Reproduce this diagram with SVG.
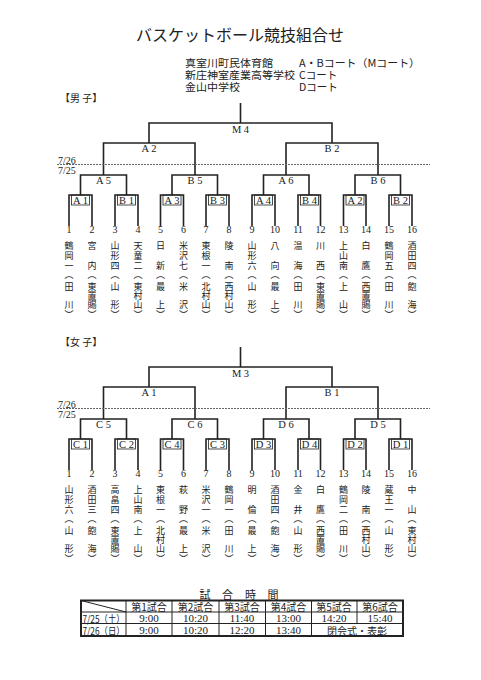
<svg xmlns="http://www.w3.org/2000/svg" width="481" height="680" viewBox="0 0 481 680">
<style>
.j{font-family:"Noto Sans CJK JP","Noto Sans CJK SC",sans-serif;fill:#222}
.s{font-family:"Liberation Serif","DejaVu Serif",serif;fill:#222}
.m{text-anchor:middle;dominant-baseline:central}
.ln{fill:none;stroke:#222;stroke-width:1.6}
.bx{fill:none;stroke:#222;stroke-width:0.8}
.dash{stroke:#666;stroke-width:1;stroke-dasharray:2 1}
.nm{font-size:9px}
.lb{font-size:10.5px}
.nu{font-size:10px}
.hd{font-size:10.5px;dominant-baseline:central}
</style>
<rect width="481" height="680" fill="#fff"/>
<g id="header">
<text class="j m" x="240" y="34" font-size="16">バスケットボール競技組合せ</text>
<text class="j hd" x="185" y="62" textLength="88" lengthAdjust="spacingAndGlyphs">真室川町民体育館</text>
<text class="j hd" x="185" y="74" textLength="110" lengthAdjust="spacingAndGlyphs">新庄神室産業高等学校</text>
<text class="j hd" x="185" y="86" textLength="55" lengthAdjust="spacingAndGlyphs">金山中学校</text>
<text class="j hd" x="299" y="62" textLength="121" lengthAdjust="spacingAndGlyphs">A・Bコート（Mコート）</text>
<text class="j hd" x="299" y="74">Cコート</text>
<text class="j hd" x="299" y="86">Dコート</text>
</g>

<!-- MALE -->
<g id="male">
<text class="j" x="60" y="97" font-size="10" dominant-baseline="central">【男 子】</text>
<g id="male-connectors">
<path class="ln" d="M240.5 103V123M149 143V123H332V143M103.5 175V143H195V175M286 175V143H378V175M80.5 195V175H126.5V195M172 195V175H217.5V195M263.5 195V175H309V195M355 195V175H400.5V195M69 226V195H92V226M115 226V195H138V226M160.5 226V195H183.5V226M206 226V195H229V226M252 226V195H275V226M298 226V195H320.5V226M343.5 226V195H366V226M389 226V195H412V226"/>
<line class="dash" x1="57" y1="164.5" x2="430" y2="164.5"/>
<text class="s" x="58" y="160" font-size="10" dominant-baseline="central">7/26</text>
<text class="s" x="58" y="170" font-size="10" dominant-baseline="central">7/25</text>
</g>
<g id="male-matches">
<g id="mM4"><text class="s m lb" x="240.5" y="129">M 4</text></g>
<g id="mA2"><text class="s m lb" x="149" y="148.5">A 2</text></g>
<g id="mB2"><text class="s m lb" x="332" y="148.5">B 2</text></g>
<g id="mA5"><text class="s m lb" x="103.5" y="180">A 5</text></g>
<g id="mB5"><text class="s m lb" x="195" y="180">B 5</text></g>
<g id="mA6"><text class="s m lb" x="286" y="180">A 6</text></g>
<g id="mB6"><text class="s m lb" x="378" y="180">B 6</text></g>
<g id="mA1"><rect class="bx" x="71.5" y="195" width="18" height="10"/><text class="s m lb" x="80.5" y="200.5">A 1</text></g>
<g id="mB1"><rect class="bx" x="117.5" y="195" width="18" height="10"/><text class="s m lb" x="126.5" y="200.5">B 1</text></g>
<g id="mA3"><rect class="bx" x="163" y="195" width="18" height="10"/><text class="s m lb" x="172" y="200.5">A 3</text></g>
<g id="mB3"><rect class="bx" x="208.5" y="195" width="18" height="10"/><text class="s m lb" x="217.5" y="200.5">B 3</text></g>
<g id="mA4"><rect class="bx" x="254.5" y="195" width="18" height="10"/><text class="s m lb" x="263.5" y="200.5">A 4</text></g>
<g id="mB4"><rect class="bx" x="300.5" y="195" width="18" height="10"/><text class="s m lb" x="309.5" y="200.5">B 4</text></g>
<g id="mA2b"><rect class="bx" x="346" y="195" width="18" height="10"/><text class="s m lb" x="355" y="200.5">A 2</text></g>
<g id="mB2b"><rect class="bx" x="391.5" y="195" width="18" height="10"/><text class="s m lb" x="400.5" y="200.5">B 2</text></g>
</g>
<g id="male-teams">
<g id="m1"><text class="s m nu" x="69" y="229.5">1</text><text class="j m nm" x="69 69 69 69 69 69 69" y="245.5 255.5 265.5 274.5 286.5 304.5 314.5">鶴岡一︵田川︶</text></g>
<g id="m2"><text class="s m nu" x="92" y="229.5">2</text><text class="j m nm" x="92 92 92 92 92 92 92" y="245.5 265.5 274.5 286.5 295.5 304.5 314.5">宮内︵東置賜︶</text></g>
<g id="m3"><text class="s m nu" x="115" y="229.5">3</text><text class="j m nm" x="115 115 115 115 115 115 115" y="245.5 255.5 265.5 274.5 286.5 304.5 314.5">山形四︵山形︶</text></g>
<g id="m4"><text class="s m nu" x="138" y="229.5">4</text><text class="j m nm" x="138 138 138 138 138 138 138 138" y="245.5 255.5 265.5 274.5 286.5 295.5 304.5 314.5">天童二︵東村山︶</text></g>
<g id="m5"><text class="s m nu" x="160.5" y="229.5">5</text><text class="j m nm" x="160.5 160.5 160.5 160.5 160.5 160.5" y="245.5 265.5 274.5 286.5 304.5 314.5">日新︵最上︶</text></g>
<g id="m6"><text class="s m nu" x="183.5" y="229.5">6</text><text class="j m nm" x="183.5 183.5 183.5 183.5 183.5 183.5 183.5" y="245.5 255.5 265.5 274.5 286.5 304.5 314.5">米沢七︵米沢︶</text></g>
<g id="m7"><text class="s m nu" x="206" y="229.5">7</text><text class="j m nm" x="206 206 206 206 206 206 206 206" y="245.5 255.5 265.5 274.5 286.5 295.5 304.5 314.5">東根一︵北村山︶</text></g>
<g id="m8"><text class="s m nu" x="229" y="229.5">8</text><text class="j m nm" x="229 229 229 229 229 229 229" y="245.5 265.5 274.5 286.5 295.5 304.5 314.5">陵南︵西村山︶</text></g>
<g id="m9"><text class="s m nu" x="252" y="229.5">9</text><text class="j m nm" x="252 252 252 252 252 252 252" y="245.5 255.5 265.5 274.5 286.5 304.5 314.5">山形六︵山形︶</text></g>
<g id="m10"><text class="s m nu" x="275" y="229.5">10</text><text class="j m nm" x="275 275 275 275 275 275" y="245.5 265.5 274.5 286.5 304.5 314.5">八向︵最上︶</text></g>
<g id="m11"><text class="s m nu" x="298" y="229.5">11</text><text class="j m nm" x="298 298 298 298 298 298" y="245.5 265.5 274.5 286.5 304.5 314.5">温海︵田川︶</text></g>
<g id="m12"><text class="s m nu" x="320.5" y="229.5">12</text><text class="j m nm" x="320.5 320.5 320.5 320.5 320.5 320.5 320.5" y="245.5 265.5 274.5 286.5 295.5 304.5 314.5">川西︵東置賜︶</text></g>
<g id="m13"><text class="s m nu" x="343.5" y="229.5">13</text><text class="j m nm" x="343.5 343.5 343.5 343.5 343.5 343.5 343.5" y="245.5 255.5 265.5 274.5 286.5 304.5 314.5">上山南︵上山︶</text></g>
<g id="m14"><text class="s m nu" x="366" y="229.5">14</text><text class="j m nm" x="366 366 366 366 366 366 366" y="245.5 265.5 274.5 286.5 295.5 304.5 314.5">白鷹︵西置賜︶</text></g>
<g id="m15"><text class="s m nu" x="389" y="229.5">15</text><text class="j m nm" x="389 389 389 389 389 389 389" y="245.5 255.5 265.5 274.5 286.5 304.5 314.5">鶴岡五︵田川︶</text></g>
<g id="m16"><text class="s m nu" x="412" y="229.5">16</text><text class="j m nm" x="412 412 412 412 412 412 412" y="245.5 255.5 265.5 274.5 286.5 304.5 314.5">酒田四︵飽海︶</text></g>
</g>
</g>

<!-- FEMALE -->
<g id="female">
<text class="j" x="60" y="341" font-size="10" dominant-baseline="central">【女 子】</text>
<g id="female-connectors">
<path class="ln" d="M240.5 347V367M149 387V367H332V387M103.5 419V387H195V419M286 419V387H378V419M80.5 439V419H126.5V439M172 439V419H217.5V439M263.5 439V419H309V439M355 439V419H400.5V439M69 470V439H92V470M115 470V439H138V470M160.5 470V439H183.5V470M206 470V439H229V470M252 470V439H275V470M298 470V439H320.5V470M343.5 470V439H366V470M389 470V439H412V470"/>
<line class="dash" x1="57" y1="408.5" x2="430" y2="408.5"/>
<text class="s" x="58" y="404" font-size="10" dominant-baseline="central">7/26</text>
<text class="s" x="58" y="414" font-size="10" dominant-baseline="central">7/25</text>
</g>
<g id="female-matches">
<g id="fM3"><text class="s m lb" x="240.5" y="373">M 3</text></g>
<g id="fA1"><text class="s m lb" x="149" y="392.5">A 1</text></g>
<g id="fB1"><text class="s m lb" x="332" y="392.5">B 1</text></g>
<g id="fC5"><text class="s m lb" x="103.5" y="424">C 5</text></g>
<g id="fC6"><text class="s m lb" x="195" y="424">C 6</text></g>
<g id="fD6"><text class="s m lb" x="286" y="424">D 6</text></g>
<g id="fD5"><text class="s m lb" x="378" y="424">D 5</text></g>
<g id="fC1"><rect class="bx" x="71.5" y="439" width="18" height="10"/><text class="s m lb" x="80.5" y="444.5">C 1</text></g>
<g id="fC2"><rect class="bx" x="117.5" y="439" width="18" height="10"/><text class="s m lb" x="126.5" y="444.5">C 2</text></g>
<g id="fC4"><rect class="bx" x="163" y="439" width="18" height="10"/><text class="s m lb" x="172" y="444.5">C 4</text></g>
<g id="fC3"><rect class="bx" x="208.5" y="439" width="18" height="10"/><text class="s m lb" x="217.5" y="444.5">C 3</text></g>
<g id="fD3"><rect class="bx" x="254.5" y="439" width="18" height="10"/><text class="s m lb" x="263.5" y="444.5">D 3</text></g>
<g id="fD4"><rect class="bx" x="300.5" y="439" width="18" height="10"/><text class="s m lb" x="309.5" y="444.5">D 4</text></g>
<g id="fD2"><rect class="bx" x="346" y="439" width="18" height="10"/><text class="s m lb" x="355" y="444.5">D 2</text></g>
<g id="fD1"><rect class="bx" x="391.5" y="439" width="18" height="10"/><text class="s m lb" x="400.5" y="444.5">D 1</text></g>
</g>
<g id="female-teams">
<g id="f1"><text class="s m nu" x="69" y="473.5">1</text><text class="j m nm" x="69 69 69 69 69 69 69" y="489.5 499.5 509.5 518.5 530.5 548.5 558.5">山形六︵山形︶</text></g>
<g id="f2"><text class="s m nu" x="92" y="473.5">2</text><text class="j m nm" x="92 92 92 92 92 92 92" y="489.5 499.5 509.5 518.5 530.5 548.5 558.5">酒田三︵飽海︶</text></g>
<g id="f3"><text class="s m nu" x="115" y="473.5">3</text><text class="j m nm" x="115 115 115 115 115 115 115 115" y="489.5 499.5 509.5 518.5 530.5 539.5 548.5 558.5">高畠四︵東置賜︶</text></g>
<g id="f4"><text class="s m nu" x="138" y="473.5">4</text><text class="j m nm" x="138 138 138 138 138 138 138" y="489.5 499.5 509.5 518.5 530.5 548.5 558.5">上山南︵上山︶</text></g>
<g id="f5"><text class="s m nu" x="160.5" y="473.5">5</text><text class="j m nm" x="160.5 160.5 160.5 160.5 160.5 160.5 160.5 160.5" y="489.5 499.5 509.5 518.5 530.5 539.5 548.5 558.5">東根一︵北村山︶</text></g>
<g id="f6"><text class="s m nu" x="183.5" y="473.5">6</text><text class="j m nm" x="183.5 183.5 183.5 183.5 183.5 183.5" y="489.5 509.5 518.5 530.5 548.5 558.5">萩野︵最上︶</text></g>
<g id="f7"><text class="s m nu" x="206" y="473.5">7</text><text class="j m nm" x="206 206 206 206 206 206 206" y="489.5 499.5 509.5 518.5 530.5 548.5 558.5">米沢一︵米沢︶</text></g>
<g id="f8"><text class="s m nu" x="229" y="473.5">8</text><text class="j m nm" x="229 229 229 229 229 229 229" y="489.5 499.5 509.5 518.5 530.5 548.5 558.5">鶴岡一︵田川︶</text></g>
<g id="f9"><text class="s m nu" x="252" y="473.5">9</text><text class="j m nm" x="252 252 252 252 252 252" y="489.5 509.5 518.5 530.5 548.5 558.5">明倫︵最上︶</text></g>
<g id="f10"><text class="s m nu" x="275" y="473.5">10</text><text class="j m nm" x="275 275 275 275 275 275 275" y="489.5 499.5 509.5 518.5 530.5 548.5 558.5">酒田四︵飽海︶</text></g>
<g id="f11"><text class="s m nu" x="298" y="473.5">11</text><text class="j m nm" x="298 298 298 298 298 298" y="489.5 509.5 518.5 530.5 548.5 558.5">金井︵山形︶</text></g>
<g id="f12"><text class="s m nu" x="320.5" y="473.5">12</text><text class="j m nm" x="320.5 320.5 320.5 320.5 320.5 320.5 320.5" y="489.5 509.5 518.5 530.5 539.5 548.5 558.5">白鷹︵西置賜︶</text></g>
<g id="f13"><text class="s m nu" x="343.5" y="473.5">13</text><text class="j m nm" x="343.5 343.5 343.5 343.5 343.5 343.5 343.5" y="489.5 499.5 509.5 518.5 530.5 548.5 558.5">鶴岡二︵田川︶</text></g>
<g id="f14"><text class="s m nu" x="366" y="473.5">14</text><text class="j m nm" x="366 366 366 366 366 366 366" y="489.5 509.5 518.5 530.5 539.5 548.5 558.5">陵南︵西村山︶</text></g>
<g id="f15"><text class="s m nu" x="389" y="473.5">15</text><text class="j m nm" x="389 389 389 389 389 389 389" y="489.5 499.5 509.5 518.5 530.5 548.5 558.5">蔵王一︵山形︶</text></g>
<g id="f16"><text class="s m nu" x="412" y="473.5">16</text><text class="j m nm" x="412 412 412 412 412 412 412" y="489.5 509.5 518.5 530.5 539.5 548.5 558.5">中山︵東村山︶</text></g>
</g>
</g>

<!-- SCHEDULE TABLE -->
<g id="schedule">
<text class="j m" font-size="11" x="205 227.5 250.5 273" y="593.5 593.5 593.5 593.5">試合時間</text>
<g fill="none" stroke="#222">
<rect x="81" y="600.5" width="322" height="35.5" stroke-width="2"/>
<path stroke-width="1" d="M81 612H403M81 623.5H403M126 600.5V636M172 600.5V636M219 600.5V636M265.5 600.5V636M311.5 600.5V636M357 600.5V623.5M81 600.5L126 612"/>
</g>
<g class="j m" font-size="10">
<text x="149" y="606">第1試合</text>
<text x="195.5" y="606">第2試合</text>
<text x="242" y="606">第3試合</text>
<text x="288.5" y="606">第4試合</text>
<text x="334" y="606">第5試合</text>
<text x="380" y="606">第6試合</text>
<text x="103.5" y="618" textLength="42" lengthAdjust="spacingAndGlyphs">7/25（土）</text>
<text x="103.5" y="630" textLength="42" lengthAdjust="spacingAndGlyphs">7/26（日）</text>
<text x="357" y="630">閉会式・表彰</text>
</g>
<g class="s m" font-size="11">
<text x="149" y="618">9:00</text>
<text x="195.5" y="618">10:20</text>
<text x="242" y="618">11:40</text>
<text x="288.5" y="618">13:00</text>
<text x="334" y="618">14:20</text>
<text x="380" y="618">15:40</text>
<text x="149" y="630">9:00</text>
<text x="195.5" y="630">10:20</text>
<text x="242" y="630">12:20</text>
<text x="288.5" y="630">13:40</text>
</g>
</g>
</svg>
